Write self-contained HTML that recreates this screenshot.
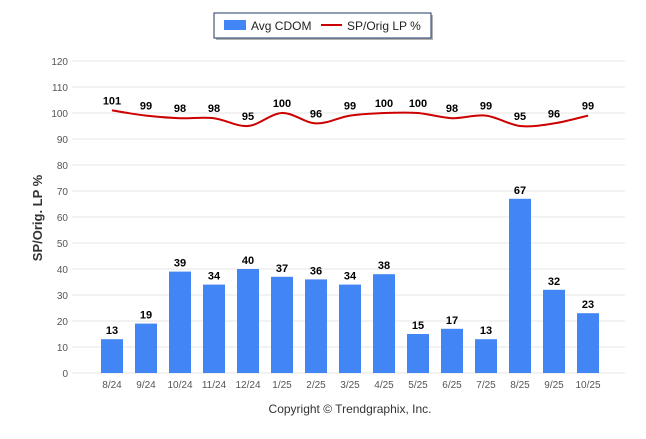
<!DOCTYPE html>
<html><head><meta charset="utf-8"><style>
body{margin:0;background:#fff;font-family:"Liberation Sans",Arial,sans-serif}
svg text{font-family:"Liberation Sans",Arial,sans-serif}
</style></head><body>
<svg id="c" width="646" height="434" xmlns="http://www.w3.org/2000/svg">
<g>
<rect x="216" y="15" width="217" height="25" fill="#666" opacity="0.5"/>
<rect x="214" y="13" width="217" height="25" fill="#fff" stroke="#1f3864" stroke-width="1"/>
<rect x="224" y="20" width="22" height="10" fill="#4285f4"/>
<text x="251" y="30" font-size="12" fill="#222">Avg CDOM</text>
<line x1="321" y1="25" x2="342" y2="25" stroke="#cc0000" stroke-width="2"/>
<text x="347" y="30" font-size="12" fill="#222">SP/Orig LP %</text>
</g>
<text transform="translate(42,218) rotate(-90)" text-anchor="middle" font-size="13" font-weight="bold" fill="#333">SP/Orig. LP %</text>
<text x="350" y="413" text-anchor="middle" font-size="12" fill="#333">Copyright © Trendgraphix, Inc.</text>
<g id="grid"></g><g id="bars"></g><g id="line"></g><g id="labels"></g>
</svg>
<script>
const categories=["8/24","9/24","10/24","11/24","12/24","1/25","2/25","3/25","4/25","5/25","6/25","7/25","8/25","9/25","10/25"];
const cdom=[13,19,39,34,40,37,36,34,38,15,17,13,67,32,23];
const spPct=[101,99,98,98,95,100,96,99,100,100,98,99,95,96,99];
const yTicks=[0,10,20,30,40,50,60,70,80,90,100,110,120];
const NS="http://www.w3.org/2000/svg";
const y=v=>373-v*2.6;
const x=i=>112+i*34;
function mk(t,a,p){const e=document.createElementNS(NS,t);for(const k in a)e.setAttribute(k,a[k]);p.appendChild(e);return e;}
const grid=document.getElementById('grid'),bars=document.getElementById('bars'),line=document.getElementById('line'),labels=document.getElementById('labels');
yTicks.forEach(t=>{
 const l=mk('line',{x1:72,x2:625,y1:y(t),y2:y(t),stroke:'#e6e6e6','stroke-width':1},grid);
 
 
 const tx=mk('text',{x:68,y:y(t)+4,'text-anchor':'end','font-size':10,fill:'#555'},grid);tx.textContent=t;
 
 
});
categories.forEach((c,i)=>{
 const tx=mk('text',{x:x(i),y:388,'text-anchor':'middle','font-size':10,fill:'#555'},grid);tx.textContent=c;
 
 
 const b=mk('rect',{x:x(i)-11,y:y(cdom[i]),width:22,height:y(0)-y(cdom[i]),fill:'#4285f4'},bars);
 
 
 const bl=mk('text',{x:x(i),y:y(cdom[i])-5,'text-anchor':'middle','font-size':11,'font-weight':'bold',fill:'#000'},labels);bl.textContent=cdom[i];
 
 
 const pl=mk('text',{x:x(i),y:y(spPct[i])-6,'text-anchor':'middle','font-size':11,'font-weight':'bold',fill:'#000'},labels);pl.textContent=spPct[i];
 
 
});
const pts=spPct.map((v,i)=>[x(i),y(v)]);
let d='M'+pts[0][0]+','+pts[0][1];
for(let i=0;i<pts.length-1;i++){
 const p0=pts[Math.max(0,i-1)],p1=pts[i],p2=pts[i+1],p3=pts[Math.min(pts.length-1,i+2)];
 const t=1/6;
 d+=' C'+(p1[0]+(p2[0]-p0[0])*t)+','+(p1[1]+(p2[1]-p0[1])*t)+' '+(p2[0]-(p3[0]-p1[0])*t)+','+(p2[1]-(p3[1]-p1[1])*t)+' '+p2[0]+','+p2[1];
}
const path=mk('path',{d:d,fill:'none',stroke:'#cc0000','stroke-width':2},line);


</script>
</body></html>
